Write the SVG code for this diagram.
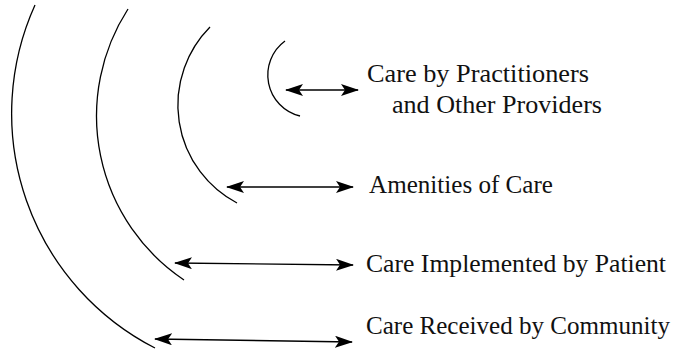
<svg xmlns="http://www.w3.org/2000/svg" width="679" height="354" viewBox="0 0 679 354">
<style>
.arc{fill:none;stroke:#000;stroke-width:1.3}
.con{fill:none;stroke:#000;stroke-width:1.4;marker-start:url(#ah);marker-end:url(#ah)}
.lbl{font-family:"Liberation Serif","Times New Roman",serif;font-size:26px;fill:#111}
</style>
<defs>
<marker id="ah" markerUnits="userSpaceOnUse" viewBox="0 0 18 12" refX="17" refY="6" markerWidth="18" markerHeight="12" orient="auto-start-reverse">
<path d="M0,0 L18,6 L0,12 L4,6 z" fill="#000"/>
</marker>
</defs>
<g id="arcs">
<g id="arc-community"><path class="arc" d="M35,5 A263.5,263.5 0 0 0 155,348"/></g>
<g id="arc-patient"><path class="arc" d="M128,9 A197.5,197.5 0 0 0 184,280"/></g>
<g id="arc-amenities"><path class="arc" d="M210,27 A110.8,110.8 0 0 0 237,203"/></g>
<g id="arc-practitioners"><path class="arc" d="M285,41 A42.2,42.2 0 0 0 300,116"/></g>
</g>
<g id="connectors">
<line class="con" x1="286" y1="90" x2="358" y2="90"/>
<line class="con" x1="227" y1="187" x2="353" y2="187"/>
<line class="con" x1="175" y1="263" x2="353" y2="265"/>
<line class="con" x1="155" y1="339" x2="352" y2="342"/>
</g>
<g id="label-practitioners">
<text class="lbl" x="367" y="82" textLength="222" lengthAdjust="spacingAndGlyphs">Care by Practitioners</text>
<text class="lbl" x="392" y="113" textLength="210" lengthAdjust="spacingAndGlyphs">and Other Providers</text>
</g>
<g id="label-amenities"><text class="lbl" x="369" y="193" textLength="184" lengthAdjust="spacingAndGlyphs">Amenities of Care</text></g>
<g id="label-patient"><text class="lbl" x="366" y="272" textLength="300" lengthAdjust="spacingAndGlyphs">Care Implemented by Patient</text></g>
<g id="label-community"><text class="lbl" x="366" y="334" textLength="304" lengthAdjust="spacingAndGlyphs">Care Received by Community</text></g>
</svg>
